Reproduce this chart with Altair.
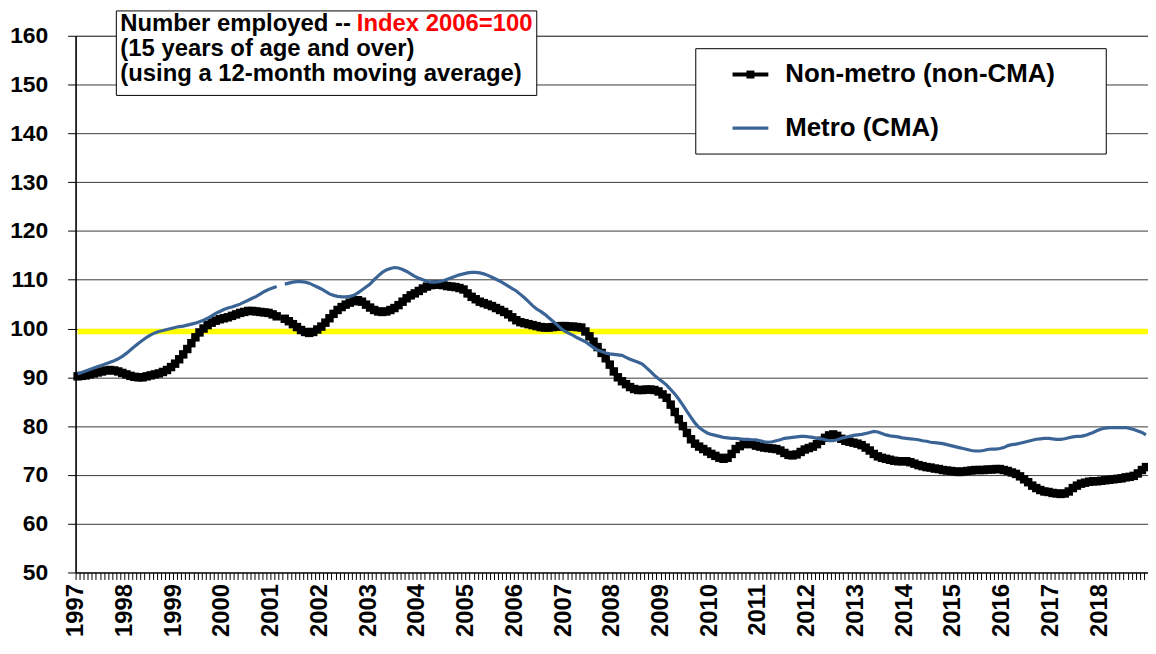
import altair as alt
import pandas as pd

FONT = "Liberation Sans"

years = list(range(1997, 2019))
series_names = ["Non-metro (non-CMA)", "Metro (CMA)"]
series_colors = ["#000000", "#3B6496"]

# Index 2006=100, 12-month moving average, monthly Jan 1997 - Dec 2018
non_metro = [
    90.2, 90.3, 90.4, 90.6, 90.8, 91.0, 91.2, 91.4, 91.5, 91.4, 91.2, 90.9,
    90.6, 90.3, 90.1, 90.0, 90.0, 90.2, 90.4, 90.6, 90.8, 91.1, 91.5, 92.1,
    92.8, 93.7, 94.7, 95.8, 97.0, 98.2, 99.2, 100.0, 100.7, 101.2, 101.6, 101.9,
    102.1, 102.3, 102.6, 102.9, 103.2, 103.4, 103.6, 103.6, 103.5, 103.4, 103.3, 103.2,
    102.9, 102.5, None, 102.0, 101.5, 100.9, 100.3, 99.7, 99.3, 99.1, 99.3, 99.8,
    100.4, 101.2, 102.1, 103.0, 103.8, 104.4, 104.9, 105.3, 105.6, 105.8, 105.5, 104.9,
    104.3, 103.8, 103.5, 103.4, 103.5, 103.8, 104.2, 104.8, 105.5, 106.2, 106.8, 107.2,
    107.7, 108.2, 108.6, 108.9, 109.0, 109.0, 108.9, 108.7, 108.6, 108.5, 108.3, 108.0,
    107.2, 106.5, 106.0, 105.5, 105.2, 104.9, 104.6, 104.2, 103.8, 103.4, 102.9, 102.3,
    101.7, 101.3, 101.1, 100.9, 100.7, 100.5, 100.3, 100.2, 100.2, 100.3, 100.4, 100.5,
    100.5, 100.4, 100.4, 100.3, 100.2, 99.4, 98.4, 97.3, 96.2, 95.0, 93.9, 92.6,
    91.2, 90.0, 89.2, 88.6, 88.0, 87.6, 87.4, 87.4, 87.5, 87.5, 87.4, 87.1,
    86.5, 85.8, 84.4, 82.9, 81.4, 80.0, 78.6, 77.3, 76.4, 75.8, 75.3, 74.8,
    74.3, 73.9, 73.5, 73.3, 73.5, 74.3, 75.3, 75.9, 76.3, 76.5, 76.3, 76.0,
    75.8, 75.6, 75.5, 75.4, 75.3, 75.0, 74.5, 74.1, 74.0, 74.2, 74.7, 75.2,
    75.5, 75.8, 76.3, 77.0, 77.6, 78.1, 78.3, 78.0, 77.4, 77.0, 76.8, 76.6,
    76.4, 76.1, 75.6, 75.0, 74.3, 73.8, 73.5, 73.3, 73.1, 72.9, 72.8, 72.8,
    72.8, 72.6, 72.3, 72.0, 71.8, 71.6, 71.5, 71.3, 71.2, 71.0, 70.9, 70.8,
    70.7, 70.6, 70.7, 70.8, 70.9, 71.0, 71.0, 71.0, 71.1, 71.1, 71.2, 71.2,
    71.0, 70.8, 70.5, 70.2, 69.7, 69.1, 68.5, 67.8, 67.3, 66.9, 66.6, 66.5,
    66.3, 66.2, 66.1, 66.2, 66.6, 67.3, 67.8, 68.2, 68.4, 68.6, 68.7, 68.7,
    68.8, 68.9, 69.0, 69.1, 69.2, 69.3, 69.5, 69.6, 69.8, 70.3, 71.0, 71.6,
]

metro = [
    90.7, 91.0, 91.3, 91.6, 91.9, 92.2, 92.5, 92.8, 93.1, 93.4, 93.8, 94.3,
    94.9, 95.6, 96.3, 97.0, 97.6, 98.2, 98.7, 99.1, 99.4, 99.6, 99.8, 100.0,
    100.2, 100.4, 100.5, 100.7, 100.9, 101.1, 101.4, 101.7, 102.1, 102.6, 103.1, 103.5,
    103.9, 104.2, 104.4, 104.7, 105.0, 105.4, 105.8, 106.2, 106.6, 107.1, 107.6, 108.0,
    108.3, 108.6, None, 109.1, 109.3, 109.5, 109.6, 109.6, 109.5, 109.3, 108.9, 108.5,
    108.1, 107.6, 107.1, 106.8, 106.6, 106.5, 106.5, 106.6, 106.8, 107.3, 107.9, 108.5,
    109.1, 110.0, 110.8, 111.5, 112.0, 112.3, 112.5, 112.4, 112.1, 111.7, 111.2, 110.7,
    110.3, 110.0, 109.7, 109.5, 109.5, 109.6, 109.8, 110.1, 110.4, 110.7, 111.0, 111.2,
    111.4, 111.5, 111.5, 111.4, 111.2, 110.9, 110.5, 110.1, 109.7, 109.2, 108.7, 108.2,
    107.7, 107.0, 106.3, 105.5, 104.7, 104.0, 103.5, 102.9, 102.2, 101.5, 100.8, 100.0,
    99.4, 99.0, 98.6, 98.1, 97.7, 97.3, 96.7, 96.1, 95.6, 95.3, 95.0, 94.8,
    94.7, 94.6, 94.5, 94.1, 93.7, 93.4, 93.1, 92.7, 92.0, 91.2, 90.4, 89.7,
    89.1, 88.4, 87.5, 86.6, 85.5, 84.3, 83.0, 81.8, 80.6, 79.7, 79.1, 78.6,
    78.3, 78.1, 77.9, 77.7, 77.6, 77.5, 77.5, 77.4, 77.3, 77.3, 77.2, 77.2,
    77.0, 76.8, 76.7, 76.8, 77.0, 77.2, 77.5, 77.6, 77.7, 77.8, 77.9, 77.9,
    77.8, 77.7, 77.5, 77.4, 77.2, 77.0, 77.0, 77.2, 77.5, 77.7, 77.9, 78.1,
    78.2, 78.3, 78.5, 78.7, 78.9, 78.8, 78.5, 78.2, 78.0, 77.9, 77.8, 77.6,
    77.5, 77.4, 77.3, 77.2, 77.0, 76.9, 76.7, 76.6, 76.5, 76.4, 76.2, 76.0,
    75.8, 75.6, 75.4, 75.2, 75.0, 74.9, 74.9, 75.0, 75.2, 75.3, 75.3, 75.4,
    75.6, 76.0, 76.2, 76.3, 76.5, 76.7, 76.9, 77.1, 77.3, 77.4, 77.5, 77.5,
    77.4, 77.3, 77.3, 77.4, 77.6, 77.8, 77.9, 77.9, 78.1, 78.4, 78.7, 79.1,
    79.4, 79.6, 79.7, 79.7, 79.7, 79.7, 79.7, 79.5, 79.3, 79.0, 78.7, 78.2,
]

reference_level = 99.4
y_ticks = list(range(50, 161, 10))

title_lines = ["(15 years of age and over)", "(using a 12-month moving average)"]
title_black = "Number employed -- "
title_red = "Index 2006=100"

n = len(non_metro)
t = [years[0] + (i + 0.5) / 12 for i in range(n)]
x_end = years[-1] + 1
tick_vals = [years[0] + k / 12 for k in range(n + 1)]

df = pd.DataFrame({"t": t, "non_metro": non_metro, "metro": metro})

x_scale = alt.Scale(domain=[years[0], x_end], nice=False, zero=False)
y_scale = alt.Scale(domain=[y_ticks[0], y_ticks[-1]], nice=False, zero=False)

x_axis = alt.Axis(
    values=tick_vals,
    labelExpr="(abs(datum.value - round(datum.value)) < 0.01 && datum.value < %d) ? format(round(datum.value), 'd') : ''" % x_end,
    labelAngle=-90,
    labelFont=FONT, labelFontSize=24, labelFontWeight="bold", labelColor="black",
    labelOverlap=False, labelFlush=False, labelBound=False, labelPadding=4,
    tickColor="black", tickSize=7, tickWidth=1,
    domainColor="black", domainWidth=1, grid=False, title=None,
)
y_axis = alt.Axis(
    values=y_ticks,
    labelFont=FONT, labelFontSize=23, labelFontWeight="bold", labelColor="black",
    labelPadding=20, tickColor="black", tickSize=8, tickWidth=1,
    domainColor="black", domainWidth=1.5,
    grid=True, gridColor="#3a3a3a", gridWidth=1, title=None,
)


def X(field):
    return alt.X(field, type="quantitative", scale=x_scale, axis=x_axis)


def Y(field):
    return alt.Y(field, type="quantitative", scale=y_scale, axis=y_axis)


base = alt.Chart(df)

ref_df = pd.DataFrame({"x0": [t[0]], "x1": [x_end], "v": [reference_level]})
yellow = alt.Chart(ref_df).mark_rule(color="#FFFF00", strokeWidth=5.5).encode(
    x=X("x0"), x2="x1", y=Y("v")
)

black_line = base.mark_line(color=series_colors[0], strokeWidth=5).encode(x=X("t"), y=Y("non_metro"))
black_pts = base.mark_point(shape="square", filled=True, size=72, color=series_colors[0], opacity=1).encode(
    x=X("t"), y=Y("non_metro")
)
blue_line = base.mark_line(color=series_colors[1], strokeWidth=3.2).encode(x=X("t"), y=Y("metro"))

one = pd.DataFrame({"a": [0]})
ann = alt.Chart(one)

title_box = ann.mark_rect(fill="white", stroke="black", strokeWidth=1).encode(
    x=alt.value(41), x2=alt.value(464), y=alt.value(-25), y2=alt.value(60)
)
txt = dict(font=FONT, fontSize=24, fontWeight="bold", align="left", baseline="middle")
t1a = ann.mark_text(color="black", **txt).encode(x=alt.value(45), y=alt.value(-12), text=alt.value(title_black))
t1b = ann.mark_text(color="#FF0000", **txt).encode(x=alt.value(283), y=alt.value(-12), text=alt.value(title_red))
t2 = ann.mark_text(color="black", **txt).encode(x=alt.value(45), y=alt.value(13), text=alt.value(title_lines[0]))
t3 = ann.mark_text(color="black", **txt).encode(x=alt.value(45), y=alt.value(38), text=alt.value(title_lines[1]))

legend_box = ann.mark_rect(fill="white", stroke="black", strokeWidth=1).encode(
    x=alt.value(624), x2=alt.value(1037), y=alt.value(13), y2=alt.value(119)
)
leg1_line = ann.mark_rule(color=series_colors[0], strokeWidth=4).encode(
    x=alt.value(661), x2=alt.value(697), y=alt.value(39)
)
leg1_pt = ann.mark_point(shape="square", filled=True, size=64, color=series_colors[0], opacity=1).encode(
    x=alt.value(679), y=alt.value(39)
)
leg2_line = ann.mark_rule(color=series_colors[1], strokeWidth=3.2).encode(
    x=alt.value(661), x2=alt.value(697), y=alt.value(93)
)
ltxt = dict(font=FONT, fontSize=26, fontWeight="bold", align="left", baseline="middle", color="black")
leg1_txt = ann.mark_text(**ltxt).encode(x=alt.value(714), y=alt.value(39), text=alt.value(series_names[0]))
leg2_txt = ann.mark_text(**ltxt).encode(x=alt.value(714), y=alt.value(93), text=alt.value(series_names[1]))

chart = alt.layer(
    yellow, black_line, black_pts, blue_line,
    title_box, t1a, t1b, t2, t3,
    legend_box, leg1_line, leg1_pt, leg2_line, leg1_txt, leg2_txt,
).properties(
    width=1079,
    height=540,
    padding={"left": 68, "top": 26, "right": 0, "bottom": 70},
    autosize=alt.AutoSizeParams(type="none"),
    background="white",
).configure_view(stroke="#808080", strokeWidth=1)

chart.save("out.html", embed_options={"renderer": "svg", "actions": False})
